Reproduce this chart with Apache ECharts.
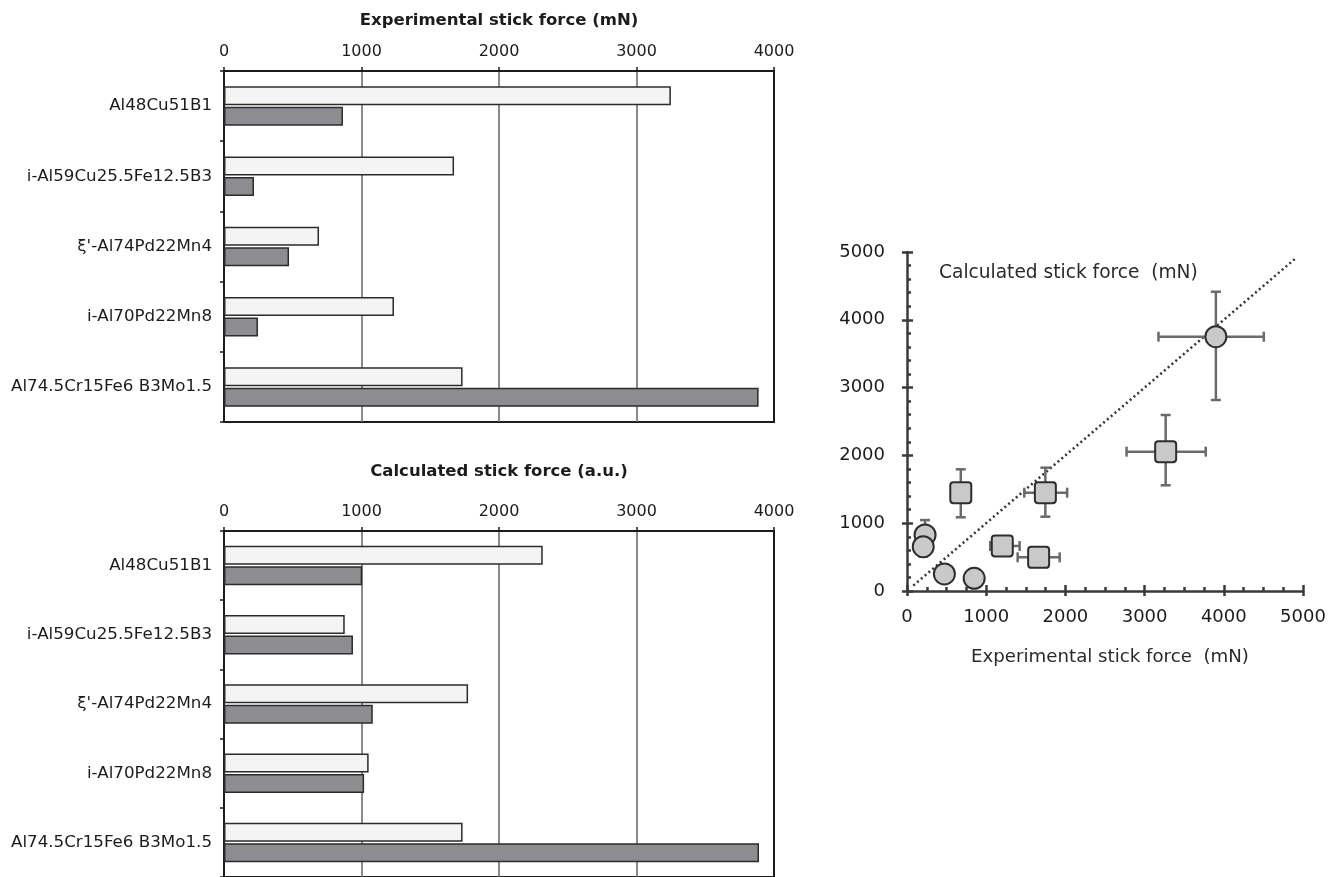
<!DOCTYPE html>
<html>
<head>
<meta charset="utf-8">
<title>Stick force: experiment vs. calculation</title>
<script src="https://cdn.jsdelivr.net/npm/echarts@6/dist/echarts.min.js"></script>
<style>
  html, body { margin: 0; padding: 0; background: #ffffff; }
  #chart { width: 1341px; height: 877px; }
</style>
</head>
<body>
<div id="chart"></div>
<script>
// Alloys, listed top to bottom in both bar panels
const categories = [
  'Al48Cu51B1',
  'i-Al59Cu25.5Fe12.5B3',
  "\u03BE'-Al74Pd22Mn4",
  'i-Al70Pd22Mn8',
  'Al74.5Cr15Fe6 B3Mo1.5'
];

// Experimental stick force (mN): light and dark bars
const expLight = [3250, 1673, 691, 1236, 1735];
const expDark = [865, 218, 473, 247, 3888];

// Calculated stick force (a.u.): light and dark bars
const calcLight = [2318, 878, 1775, 1052, 1735];
const calcDark = [1005, 938, 1082, 1019, 3891];

// Bar axis ticks
const barTicks = [0, 1000, 2000, 3000, 4000];

// Scatter: experimental (x) vs calculated (y), circles
const circleX = [228, 205, 472, 848, 3900];
const circleY = [826, 654, 251, 187, 3751];
const circleXMinus = [0, 0, 0, 0, 725];
const circleXPlus = [0, 0, 0, 0, 605];
const circleYMinus = [220, 147, 0, 0, 934];
const circleYPlus = [220, 147, 0, 0, 663];

// Scatter: squares
const squareX = [3266, 1747, 679, 1203, 1662];
const squareY = [2055, 1450, 1450, 664, 497];
const squareXMinus = [494, 266, 0, 152, 265];
const squareXPlus = [506, 275, 0, 219, 266];
const squareYMinus = [496, 354, 363, 0, 0];
const squareYPlus = [541, 369, 345, 0, 0];

// Scatter axis ticks
const scatterTicks = [0, 1000, 2000, 3000, 4000, 5000];
// Reference line y = x
const parityLine = [[80, 80], [4900, 4900]];

const LEFT_FONT = 'DejaVu Sans';
const RIGHT_FONT = 'DejaVu Sans';
const INK = '#1c1c1c';
const plainNumber = v => String(v);

// Square marker with slightly rounded corners
const SQUARE_PATH = 'path://M3,0 H17 Q20,0 20,3 V17 Q20,20 17,20 H3 Q0,20 0,17 V3 Q0,0 3,0 Z';

function zip(xs, ys, a, b, c, d) {
  return xs.map((x, i) => [x, ys[i], a[i], b[i], c[i], d[i]]);
}
const circleData = zip(circleX, circleY, circleXMinus, circleXPlus, circleYMinus, circleYPlus);
const squareData = zip(squareX, squareY, squareXMinus, squareXPlus, squareYMinus, squareYPlus);

// Cross-shaped error bars with end caps
function renderErrorBars(params, api) {
  const x = api.value(0), y = api.value(1);
  const xm = api.value(2), xp = api.value(3), ym = api.value(4), yp = api.value(5);
  const cap = 5;
  const style = { stroke: '#6a6a6a', lineWidth: 2.5 };
  const children = [];
  const line = (p, q) => children.push({
    type: 'line', shape: { x1: p[0], y1: p[1], x2: q[0], y2: q[1] }, style
  });
  if (xm > 0 || xp > 0) {
    const l = api.coord([x - xm, y]);
    const r = api.coord([x + xp, y]);
    line(l, r);
    line([l[0], l[1] - cap], [l[0], l[1] + cap]);
    line([r[0], r[1] - cap], [r[0], r[1] + cap]);
  }
  if (ym > 0 || yp > 0) {
    const b = api.coord([x, y - ym]);
    const t = api.coord([x, y + yp]);
    line(b, t);
    line([b[0] - cap, b[1]], [b[0] + cap, b[1]]);
    line([t[0] - cap, t[1]], [t[0] + cap, t[1]]);
  }
  return { type: 'group', children };
}

function barValueAxis(gridIndex) {
  return {
    type: 'value', gridIndex, position: 'top',
    min: barTicks[0], max: barTicks[barTicks.length - 1],
    interval: barTicks[1] - barTicks[0],
    axisLine: { show: true, lineStyle: { color: INK, width: 2 } },
    axisTick: { show: true, length: 4, lineStyle: { color: INK, width: 1.5 } },
    axisLabel: { fontFamily: LEFT_FONT, fontSize: 16, color: INK, margin: 11, formatter: plainNumber },
    splitLine: {
      show: true,
      lineStyle: { color: [INK, '#6e6e6e', '#6e6e6e', '#6e6e6e', INK], width: 1.6 }
    }
  };
}

function barCategoryAxis(gridIndex) {
  return {
    type: 'category', gridIndex, inverse: true, data: categories,
    axisLine: { show: true, lineStyle: { color: INK, width: 2 } },
    axisTick: { show: true, length: 4, lineStyle: { color: INK, width: 1.5 } },
    axisLabel: { fontFamily: LEFT_FONT, fontSize: 16.7, color: INK, margin: 12, interval: 0 },
    splitLine: { show: false }
  };
}

function barSeries(name, data, idx, color) {
  return {
    type: 'bar', name, data, xAxisIndex: idx, yAxisIndex: idx,
    barWidth: 19, barGap: '8%',
    itemStyle: { color, borderColor: '#2b2b2b', borderWidth: 1.5 },
    silent: true
  };
}

function scatterAxis(dim, overlay) {
  const isX = dim === 'x';
  return {
    type: 'value', gridIndex: 2,
    position: isX ? 'bottom' : 'left',
    min: scatterTicks[0], max: scatterTicks[scatterTicks.length - 1],
    interval: scatterTicks[1] - scatterTicks[0],
    axisLine: { show: !overlay, lineStyle: { color: '#3a3a3a', width: 2.5 } },
    axisTick: {
      show: true, inside: !overlay, length: overlay ? 5 : 6,
      lineStyle: { color: '#3a3a3a', width: 2.5 }
    },
    minorTick: {
      show: !overlay, splitNumber: isX ? 4 : 5, length: 4,
      lineStyle: { color: '#3a3a3a', width: 2.5 }
    },
    axisLabel: overlay ? { show: false } : {
      fontFamily: RIGHT_FONT, fontSize: 18, color: INK, margin: isX ? 17 : 22, formatter: plainNumber
    },
    splitLine: { show: false }
  };
}

const chart = echarts.init(document.getElementById('chart'), null, { width: 1341, height: 877 });

chart.setOption({
  backgroundColor: '#ffffff',
  animation: false,
  grid: [
    { left: 224, top: 71, width: 550, height: 351, show: true, borderColor: INK, borderWidth: 2, backgroundColor: 'transparent' },
    { left: 224, top: 531, width: 550, height: 348, show: true, borderColor: INK, borderWidth: 2, backgroundColor: 'transparent' },
    { left: 907, top: 252, width: 396, height: 339 }
  ],
  xAxis: [
    barValueAxis(0),
    barValueAxis(1),
    scatterAxis('x', false),
    scatterAxis('x', true)
  ],
  yAxis: [
    barCategoryAxis(0),
    barCategoryAxis(1),
    scatterAxis('y', false),
    scatterAxis('y', true)
  ],
  graphic: [
    { type: 'text', x: 499, y: 21, silent: true,
      style: { text: 'Experimental stick force (mN)', fontFamily: LEFT_FONT, fontSize: 16.5, fontWeight: 'bold', fill: INK, align: 'center', verticalAlign: 'middle' } },
    { type: 'text', x: 499, y: 472, silent: true,
      style: { text: 'Calculated stick force (a.u.)', fontFamily: LEFT_FONT, fontSize: 16.5, fontWeight: 'bold', fill: INK, align: 'center', verticalAlign: 'middle' } },
    { type: 'text', x: 939, y: 273, silent: true,
      style: { text: 'Calculated stick force  (mN)', fontFamily: RIGHT_FONT, fontSize: 18.6, fill: '#2a2a2a', align: 'left', verticalAlign: 'middle' } },
    { type: 'text', x: 1110, y: 657, silent: true,
      style: { text: 'Experimental stick force  (mN)', fontFamily: RIGHT_FONT, fontSize: 18.2, fill: '#2a2a2a', align: 'center', verticalAlign: 'middle' } }
  ],
  series: [
    barSeries('Experimental, light', expLight, 0, '#f4f4f4'),
    barSeries('Experimental, dark', expDark, 0, '#8d8d91'),
    barSeries('Calculated, light', calcLight, 1, '#f4f4f4'),
    barSeries('Calculated, dark', calcDark, 1, '#8d8d91'),
    {
      type: 'line', xAxisIndex: 2, yAxisIndex: 2, data: parityLine,
      symbol: 'none', silent: true, z: 1,
      lineStyle: { color: '#333333', width: 2.5, type: [2, 3] }
    },
    {
      type: 'custom', xAxisIndex: 2, yAxisIndex: 2, data: circleData,
      renderItem: renderErrorBars, silent: true, z: 2
    },
    {
      type: 'custom', xAxisIndex: 2, yAxisIndex: 2, data: squareData,
      renderItem: renderErrorBars, silent: true, z: 2
    },
    {
      type: 'scatter', xAxisIndex: 2, yAxisIndex: 2,
      data: circleX.map((x, i) => [x, circleY[i]]),
      symbol: 'circle', symbolSize: 21, silent: true, z: 3,
      itemStyle: { color: '#c9c9c9', borderColor: '#2e2e2e', borderWidth: 2, opacity: 1 }
    },
    {
      type: 'scatter', xAxisIndex: 2, yAxisIndex: 2,
      data: squareX.map((x, i) => [x, squareY[i]]),
      symbol: SQUARE_PATH, symbolSize: 21, silent: true, z: 3,
      itemStyle: { color: '#c9c9c9', borderColor: '#2e2e2e', borderWidth: 2, opacity: 1 }
    }
  ]
});
</script>
</body>
</html>
